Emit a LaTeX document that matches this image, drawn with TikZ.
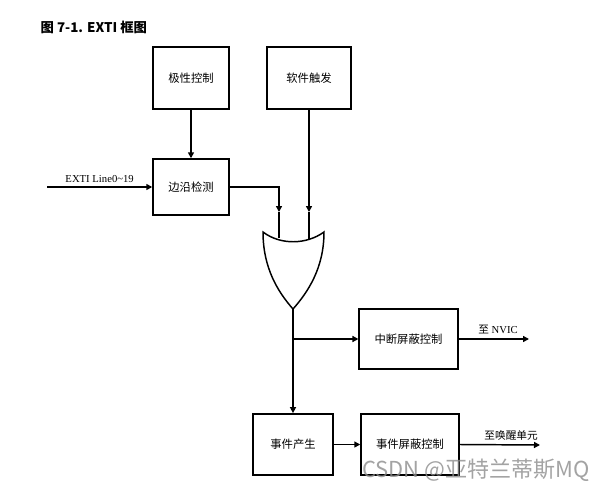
\documentclass[tikz,border=0pt]{standalone}
\usepackage{fontspec}
\setmainfont{Liberation Serif}
\newfontfamily\cjk{Noto Sans CJK SC}
\usetikzlibrary{arrows.meta}

\begin{document}
\begin{tikzpicture}[x=0.75pt,y=-0.75pt,line width=1.1pt,
  blk/.style={draw,inner sep=0pt,font=\cjk\fontsize{8.5}{10}\selectfont},
  lbl/.style={font=\fontsize{8}{10}\selectfont,inner sep=3pt},
  >={Triangle[length=4.5pt,width=4.5pt]}]
\useasboundingbox (0,0) rectangle (607,493);
\node[anchor=west,inner sep=0pt,font=\cjk\bfseries\fontsize{10}{12}\selectfont] (title) at (40,27) {图 7-1. EXTI 框图};

% blocks
\node[blk,minimum width=57pt,minimum height=46.5pt] (pol) at (191,78) {极性控制};
\node[blk,minimum width=63pt,minimum height=46.5pt] (soft) at (309,78) {软件触发};
\node[blk,minimum width=57pt,minimum height=42pt] (edge) at (191,187) {边沿检测};
\node[blk,minimum width=74pt,minimum height=45pt] (imask) at (408.5,339) {中断屏蔽控制};
\node[blk,minimum width=60pt,minimum height=46pt] (evgen) at (293,444.5) {事件产生};
\node[blk,minimum width=73.5pt,minimum height=46pt] (emask) at (410,444.5) {事件屏蔽控制};

% OR gate
\draw (263,232) .. controls (280,245) and (306,245) .. (324,232)
      .. controls (324,268) and (308,292) .. (293,309)
      .. controls (278,292) and (263,268) .. (263,232) -- cycle;
\coordinate (inA) at (279,238);
\coordinate (inB) at (309,239);
\coordinate (aA) at (279,212);
\coordinate (aB) at (309,212);
\coordinate (gout) at (293,309);
\coordinate (br) at (293,339);
\coordinate (src) at (47,187);
\coordinate (nvic) at (529,339);
\coordinate (wake) at (540,445);

% connectors
\draw[->] (pol) -- (edge);
\draw[->] (src) -- (edge.west) node[lbl,midway,above] {EXTI Line0\textasciitilde19};
\draw[->] (edge.east) -| (aA);
\draw (aA) -- (inA);
\draw[->] (soft) -- (aB);
\draw (aB) -- (inB);
\draw (gout) -- (br);
\draw[->] (br) -- (imask.west);
\draw[->] (br) -- (evgen.north);
\draw[->] (imask.east) -- (nvic) node[lbl,pos=0.56,above] {{\cjk 至} NVIC};
\draw[->] (evgen) -- (emask);
\draw[->] (emask.east) -- (wake) node[lbl,pos=0.64,above,font=\cjk\fontsize{8}{10}\selectfont] {至唤醒单元};

% watermark
\node[text=black!45,opacity=0.8,font=\cjk\fontsize{16.5}{18}\selectfont] (wm) at (476,470) {CSDN @亚特兰蒂斯MQ};
\end{tikzpicture}
\end{document}
